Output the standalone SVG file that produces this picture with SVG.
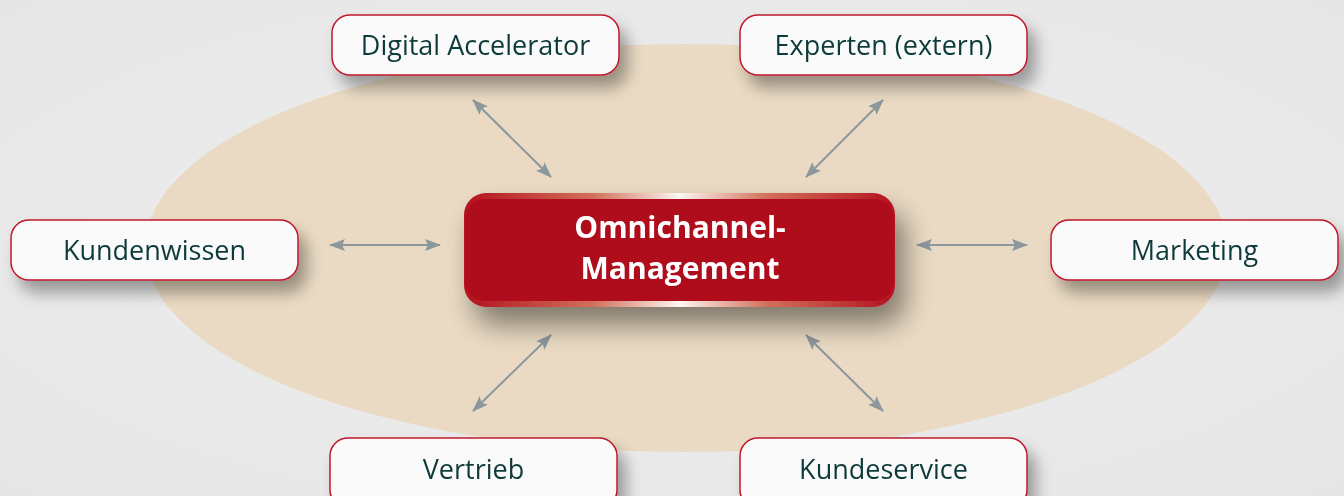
<svg xmlns="http://www.w3.org/2000/svg" width="1344" height="496" viewBox="0 0 1344 496">
  <defs>
    <style>
      .node rect { fill: #fafafa; stroke: #c0172c; stroke-width: 1.5; }
      .node text { font-family: "Open Sans", "Noto Sans", sans-serif; font-size: 27px; fill: #0f3a3a; text-anchor: middle; }
      .center text { font-family: "Open Sans", "Noto Sans", sans-serif; font-size: 30px; font-weight: bold; fill: #ffffff; text-anchor: middle; }
      .conn line { stroke: #8c979d; stroke-width: 2; marker-start: url(#head); marker-end: url(#head); }
    </style>
    <marker id="head" viewBox="0 0 16 12" refX="15" refY="6" markerWidth="8" markerHeight="6" orient="auto-start-reverse" markerUnits="strokeWidth">
      <path d="M0,0 L16,6 L0,12 L3,6 Z" fill="#8c979d"/>
    </marker>
    <filter id="shadow" x="-20%" y="-30%" width="150%" height="190%">
      <feGaussianBlur in="SourceAlpha" stdDeviation="8"/>
      <feOffset dx="8" dy="12" result="b"/>
      <feComponentTransfer><feFuncA type="linear" slope="0.35"/></feComponentTransfer>
      <feMerge><feMergeNode/><feMergeNode in="SourceGraphic"/></feMerge>
    </filter>
    <filter id="bigshadow" x="-20%" y="-30%" width="150%" height="200%">
      <feGaussianBlur in="SourceAlpha" stdDeviation="14"/>
      <feOffset dx="10" dy="18" result="b"/>
      <feComponentTransfer><feFuncA type="linear" slope="0.45"/></feComponentTransfer>
      <feMerge><feMergeNode/><feMergeNode in="SourceGraphic"/></feMerge>
    </filter>
    <linearGradient id="rim" x1="0" y1="0" x2="1" y2="0">
      <stop offset="0" stop-color="#b3121f"/>
      <stop offset="0.3" stop-color="#d2705a"/>
      <stop offset="0.5" stop-color="#fff6f2"/>
      <stop offset="0.7" stop-color="#d2705a"/>
      <stop offset="1" stop-color="#b3121f"/>
    </linearGradient>
    <radialGradient id="bg" cx="0.5" cy="0.5" r="0.7">
      <stop offset="0" stop-color="#efefef"/>
      <stop offset="1" stop-color="#e6e6e6"/>
    </radialGradient>
  </defs>

  <!-- backdrop -->
  <rect x="0" y="0" width="1344" height="496" fill="url(#bg)"/>
  <ellipse cx="686" cy="248" rx="541" ry="204" fill="#eadac3"/>

  <!-- connectors -->
  <g id="connectors" class="conn">
    <line x1="330" y1="245" x2="440" y2="245"/>
    <line x1="917" y1="245" x2="1027" y2="245"/>
    <line x1="473" y1="100" x2="551" y2="177"/>
    <line x1="883" y1="100" x2="806" y2="177"/>
    <line x1="551" y1="335" x2="473" y2="411"/>
    <line x1="806" y1="335" x2="883" y2="411"/>
  </g>

  <!-- central node -->
  <g id="omnichannel" class="center" filter="url(#bigshadow)">
    <rect x="464" y="193" width="431" height="114" rx="22" fill="url(#rim)"/>
    <rect x="465" y="199" width="429" height="102" rx="20" fill="#b00a1c"/>
    <text x="680" y="238">Omnichannel-</text>
    <text x="680" y="279">Management</text>
  </g>

  <!-- outer nodes -->
  <g id="digital-accelerator" class="node" filter="url(#shadow)">
    <rect x="332" y="15" width="287" height="60" rx="18"/>
    <text x="475.5" y="55">Digital Accelerator</text>
  </g>
  <g id="experten" class="node" filter="url(#shadow)">
    <rect x="740" y="15" width="287" height="60" rx="18"/>
    <text x="883.5" y="55">Experten (extern)</text>
  </g>
  <g id="kundenwissen" class="node" filter="url(#shadow)">
    <rect x="11" y="220" width="287" height="60" rx="18"/>
    <text x="154.5" y="260">Kundenwissen</text>
  </g>
  <g id="marketing" class="node" filter="url(#shadow)">
    <rect x="1051" y="220" width="287" height="60" rx="18"/>
    <text x="1194.5" y="260">Marketing</text>
  </g>
  <g id="vertrieb" class="node" filter="url(#shadow)">
    <rect x="330" y="438" width="287" height="70" rx="18"/>
    <text x="473.5" y="479">Vertrieb</text>
  </g>
  <g id="kundeservice" class="node" filter="url(#shadow)">
    <rect x="740" y="438" width="287" height="70" rx="18"/>
    <text x="883.5" y="479">Kundeservice</text>
  </g>
</svg>
